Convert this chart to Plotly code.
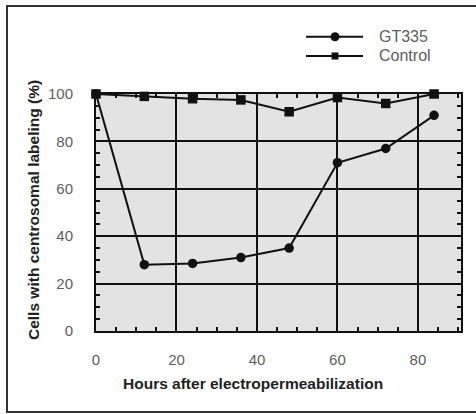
import plotly.graph_objects as go

hours = [0, 12, 24, 36, 48, 60, 72, 84]
gt335 = [100, 28, 28.5, 31, 35, 71, 77, 91]
control = [100, 99, 98, 97.5, 92.5, 98.5, 96, 100]
x_ticks = [0, 20, 40, 60, 80]
y_ticks = [0, 20, 40, 60, 80, 100]

W, H = 476, 414
L, R, T, B = 96, 461, 94, 331

def px(x):
    return (x - L) / (R - L)

def py(y):
    return (B - y) / (B - T)

fig = go.Figure()
fig.add_trace(go.Scatter(x=hours, y=control, mode="lines+markers", name="Control",
                         line=dict(color="#111", width=2),
                         marker=dict(symbol="square", size=9.5, color="#111"),
                         cliponaxis=False, showlegend=False))
fig.add_trace(go.Scatter(x=hours, y=gt335, mode="lines+markers", name="GT335",
                         line=dict(color="#111", width=2),
                         marker=dict(symbol="circle", size=9.5, color="#111"),
                         cliponaxis=False, showlegend=False))

tickfont = dict(family="Liberation Sans, Arial, sans-serif", size=15, color="#5e5e5e")
axis_common = dict(showline=True, linecolor="#111", linewidth=2, mirror="allticks",
                   showgrid=True, gridcolor="#111", gridwidth=1.6, zeroline=False,
                   ticks="inside", ticklen=0, tickcolor="#111",
                   tickfont=tickfont,
                   minor=dict(ticks="inside", ticklen=4, tickwidth=1.5, dtick=5,
                              tickcolor="#111", showgrid=False))

fig.update_xaxes(range=[0, 90.7], tickvals=x_ticks, ticklabelstandoff=14, **axis_common)
fig.update_yaxes(range=[0, 100], tickvals=y_ticks, ticklabelstandoff=18, **axis_common)

shapes = []
# outer frame
shapes.append(dict(type="rect", xref="paper", yref="paper",
                   x0=px(7), x1=px(490), y0=py(412), y1=py(6),
                   line=dict(color="#333", width=2), layer="below"))
# legend
for yy, sym in [(36.7, "circle"), (56, "square")]:
    shapes.append(dict(type="line", xref="paper", yref="paper",
                       x0=px(306), x1=px(363), y0=py(yy), y1=py(yy),
                       line=dict(color="#111", width=2)))
    if sym == "circle":
        r = 4.5
        shapes.append(dict(type="circle", xref="paper", yref="paper",
                           x0=px(335 - r), x1=px(335 + r), y0=py(yy + r), y1=py(yy - r),
                           fillcolor="#111", line=dict(color="#111", width=0)))
    else:
        r = 3.5
        shapes.append(dict(type="rect", xref="paper", yref="paper",
                           x0=px(335 - r), x1=px(335 + r), y0=py(yy + r), y1=py(yy - r),
                           fillcolor="#111", line=dict(color="#111", width=0)))

legfont = dict(family="Liberation Sans, Arial, sans-serif", size=16, color="#5e5e5e")
titlefont = dict(family="Liberation Sans, Arial, sans-serif", size=15.5, color="#222")
annotations = [
    dict(text="GT335", x=px(377), y=py(36.7), xref="paper", yref="paper",
         xanchor="left", yanchor="middle", showarrow=False, font=legfont),
    dict(text="Control", x=px(377), y=py(56), xref="paper", yref="paper",
         xanchor="left", yanchor="middle", showarrow=False, font=legfont),
    dict(text="<b>Hours after electropermeabilization</b>", x=px(253), y=py(383),
         xref="paper", yref="paper", xanchor="center", yanchor="middle",
         showarrow=False, font=titlefont),
    dict(text="<b>Cells with centrosomal labeling (%)</b>", x=px(33), y=py(210),
         xref="paper", yref="paper", xanchor="center", yanchor="middle",
         textangle=-90, showarrow=False, font=titlefont),
]

fig.update_layout(width=W, height=H,
                  margin=dict(l=L, r=W - R, t=T, b=H - B, pad=0),
                  paper_bgcolor="white", plot_bgcolor="#e3e3e3",
                  shapes=shapes, annotations=annotations, showlegend=False)

fig.write_html("out.html", config={"displayModeBar": False},
               post_script="document.body.style.margin='0';document.body.style.overflow='hidden';")
